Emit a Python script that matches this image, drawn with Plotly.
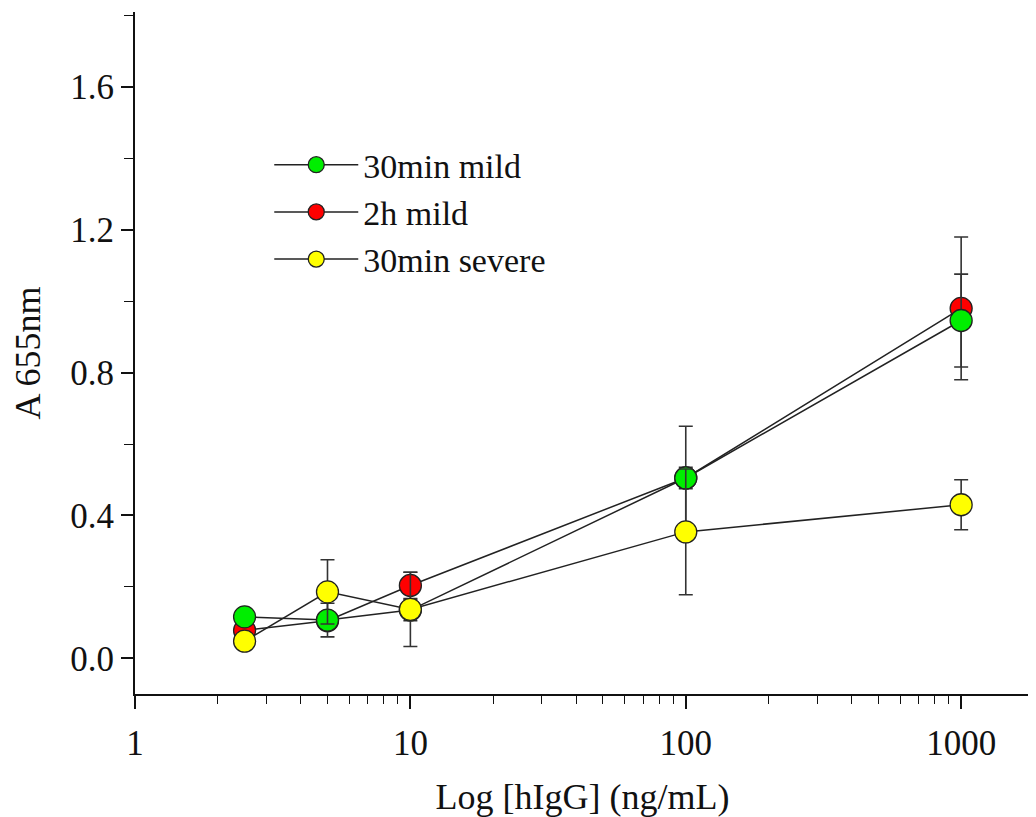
import plotly.graph_objects as go

# Data
conc = [2.5, 5, 10, 100, 1000]  # ng/mL

mild_30min = [0.116, 0.107, 0.135, 0.505, 0.946]
mild_30min_err = [0.012, 0.047, 0.03, 0.145, 0.13]

mild_2h = [0.078, 0.105, 0.204, 0.505, 0.98]
mild_2h_err = [0.02, 0.02, 0.037, 0.03, 0.2]

severe_30min = [0.048, 0.186, 0.137, 0.354, 0.43]
severe_30min_err = [0.01, 0.09, 0.104, 0.176, 0.07]

x_tick_vals = [1, 10, 100, 1000]
x_tick_text = ["1", "10", "100", "1000"]
x_minor_vals = [m * 10 ** e for e in range(0, 3) for m in range(2, 10)]
y_tick_vals = [0.0, 0.4, 0.8, 1.2, 1.6]
y_tick_text = ["0.0", "0.4", "0.8", "1.2", "1.6"]

FONT = "Liberation Serif, Times New Roman, serif"

series = [
    # name, y, err, color, legend rank (draw order red, green, yellow)
    ("2h mild", mild_2h, mild_2h_err, "#ff0000", 2),
    ("30min mild", mild_30min, mild_30min_err, "#00ee00", 1),
    ("30min severe", severe_30min, severe_30min_err, "#ffff00", 3),
]

fig = go.Figure()
for name, y, err, color, rank in series:
    fig.add_trace(go.Scatter(
        x=conc, y=y, name=name, mode="lines+markers",
        legendrank=rank,
        line=dict(color="#222222", width=1.5),
        marker=dict(size=22, color=color, line=dict(color="#222222", width=1.3)),
        error_y=dict(type="data", array=err, visible=True,
                     color="#333333", thickness=1.6, width=7),
    ))

fig.update_layout(
    width=1036, height=817,
    margin=dict(l=127, r=14, t=4, b=131),
    paper_bgcolor="white", plot_bgcolor="white",
    font=dict(family=FONT, size=34, color="#111111"),
    showlegend=True,
    legend=dict(
        x=0.15, y=0.818, xanchor="left", yanchor="top",
        bgcolor="rgba(0,0,0,0)", font=dict(family=FONT, size=34),
        traceorder="normal", itemwidth=84,
    ),
    xaxis=dict(
        type="log", range=[0, 3.25], automargin=False,
        tickvals=x_tick_vals, ticktext=x_tick_text,
        ticks="outside", ticklen=13, tickwidth=1.6, tickcolor="#111",
        ticklabelstandoff=4,
        minor=dict(tickvals=x_minor_vals, ticks="outside", ticklen=8,
                   tickwidth=1.4, tickcolor="#111"),
        showline=True, linecolor="#111", linewidth=2, mirror=False,
        showgrid=False, zeroline=False,
        tickfont=dict(size=35),
        title=dict(text="Log [hIgG] (ng/mL)", font=dict(size=36), standoff=22),
    ),
    yaxis=dict(
        range=[-0.1, 1.81], automargin=False,
        tickvals=y_tick_vals, ticktext=y_tick_text,
        ticks="outside", ticklen=12, tickwidth=1.6, tickcolor="#111",
        minor=dict(dtick=0.2, tick0=0, ticks="outside", ticklen=9,
                   tickwidth=1.4, tickcolor="#111"),
        showline=True, linecolor="#111", linewidth=2, mirror=False,
        showgrid=False, zeroline=False,
        tickfont=dict(size=35),
        title=dict(text="A 655nm", font=dict(size=36), standoff=26),
    ),
)

fig.write_html("out.html")
